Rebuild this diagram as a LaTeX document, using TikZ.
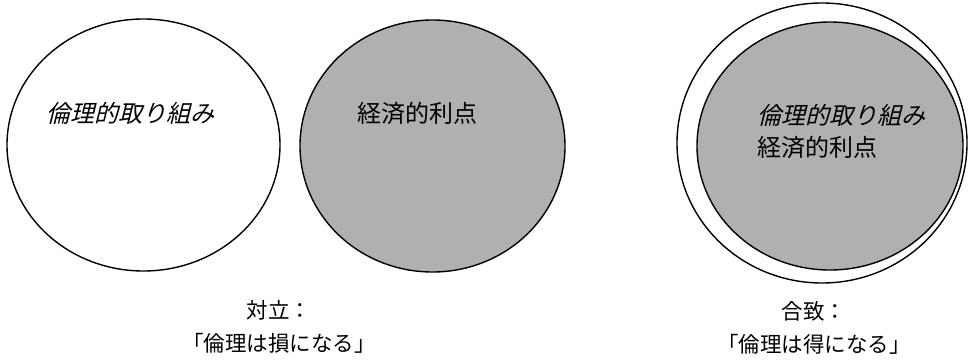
\documentclass[tikz,border=0pt]{standalone}
\usepackage{fontspec}
\newfontfamily\cjk{Noto Sans CJK JP}
\newfontfamily\cjkit[FakeSlant=0.25]{Noto Sans CJK JP}
\begin{document}
\begin{tikzpicture}[x=1pt,y=-1pt,
  ring/.style={draw=black,line width=1.4pt},
  shaded/.style={ring,fill=gray!62},
  lbl/.style={inner sep=0pt,font=\fontsize{24}{26}\cjk},
  lblit/.style={inner sep=0pt,font=\fontsize{24}{26}\cjkit},
  captext/.style={inner sep=0pt,align=center,font=\fontsize{21.5}{33}\cjk}]
\useasboundingbox[fill=white] (0,0) rectangle (968,361);
% left: ethics
\draw[ring,fill=white] (143.5,145) ellipse [x radius=136.5, y radius=126];
\node[lblit,anchor=west] (eth) at (46,113) {倫理的取り組み};
% middle: economic
\draw[shaded] (432.5,146) ellipse [x radius=132.5, y radius=126];
\node[lbl,anchor=west] (eco) at (357,113) {経済的利点};
% right: agreement
\draw[ring,fill=white] (822,143) ellipse [x radius=145, y radius=140];
\draw[shaded] (830,146) ellipse [x radius=133, y radius=124];
\node[lblit,anchor=west] (eth2) at (757,115) {倫理的取り組み};
\node[lbl,anchor=west] (eco2) at (757,147) {経済的利点};
% captions
\node[captext] (c1) at (279,327) {対立：\\「倫理は損になる」};
\node[captext] (c2) at (814,328) {合致：\\「倫理は得になる」};
\end{tikzpicture}
\end{document}
